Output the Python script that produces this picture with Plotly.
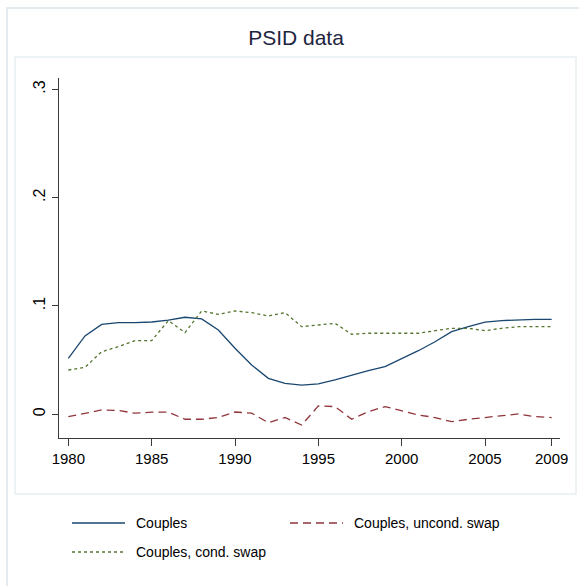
import plotly.graph_objects as go

# PSID series, 1980-2009
years = list(range(1980, 2010))

couples = [0.0517, 0.0723, 0.0830, 0.0846, 0.0846, 0.0852, 0.0870, 0.0896, 0.0880, 0.0778,
           0.0610, 0.0455, 0.0332, 0.0286, 0.0270, 0.0280, 0.0317, 0.0363, 0.0403, 0.0440,
           0.0510, 0.0587, 0.0670, 0.0763, 0.0809, 0.0850, 0.0865, 0.0874, 0.0877, 0.0877]

uncond_swap = [-0.0022, 0.0010, 0.0040, 0.0035, 0.0010, 0.0020, 0.0020, -0.0046, -0.0046, -0.0030,
               0.0021, 0.0010, -0.0078, -0.0030, -0.0099, 0.0077, 0.0071, -0.0046, 0.0024, 0.0071,
               0.0030, -0.0006, -0.0030, -0.0068, -0.0046, -0.0030, -0.0015, 0.0003, -0.0022, -0.0030]

cond_swap = [0.0409, 0.0434, 0.0578, 0.0624, 0.0680, 0.0680, 0.0865, 0.0754, 0.0954, 0.0923,
             0.0954, 0.0938, 0.0908, 0.0938, 0.0809, 0.0825, 0.0840, 0.0739, 0.0748, 0.0748,
             0.0748, 0.0748, 0.0772, 0.0794, 0.0794, 0.0772, 0.0794, 0.0809, 0.0809, 0.0809]

x_ticks = [1980, 1985, 1990, 1995, 2000, 2005, 2009]
y_ticks = [0, 0.1, 0.2, 0.3]
y_tick_text = ["0", ".1", ".2", ".3"]

series_names = ["Couples", "Couples, uncond. swap", "Couples, cond. swap"]
colors = ["#1a476f", "#90353b", "#55752f"]
dashes = ["solid", "8px,5px", "3px,3px"]

FONT = "Liberation Sans Narrow, Arial Narrow, Liberation Sans, Arial, sans-serif"

W, H = 579, 586
L, R, T, B = 59, 19, 78, 148
PW, PH = W - L - R, H - T - B


def px_x(p):
    return (p - L) / PW


def px_y(p):
    return (H - B - p) / PH


fig = go.Figure()
for name, vals, col, dash in zip(series_names, [couples, uncond_swap, cond_swap], colors, dashes):
    fig.add_trace(go.Scatter(x=years, y=vals, mode="lines", name=name,
                             line=dict(color=col, width=1.3, dash=dash),
                             showlegend=False))

shapes = [
    # outer graph region frame
    dict(type="rect", xref="paper", yref="paper",
         x0=px_x(7), x1=px_x(590), y0=px_y(600), y1=px_y(8),
         line=dict(color="#e4ecef", width=2), fillcolor="rgba(0,0,0,0)", layer="below"),
    # inner plot region frame
    dict(type="rect", xref="paper", yref="paper",
         x0=px_x(15), x1=px_x(576), y0=px_y(494), y1=px_y(57),
         line=dict(color="#e8eff1", width=1.5), fillcolor="rgba(0,0,0,0)", layer="below"),
]

# legend keys
legend_rows = [(72, 523), (290, 523), (72, 552)]
annotations = []
for (lx, ly), name, col, dash in zip(legend_rows, series_names, colors, dashes):
    shapes.append(dict(type="line", xref="paper", yref="paper",
                       x0=px_x(lx), x1=px_x(lx + 53), y0=px_y(ly), y1=px_y(ly),
                       line=dict(color=col, width=1.3, dash=dash)))
    annotations.append(dict(text=name, xref="paper", yref="paper",
                            x=px_x(lx + 62), y=px_y(ly), xanchor="left", yanchor="middle",
                            showarrow=False, font=dict(family=FONT, size=14, color="#000000")))

fig.update_layout(
    width=W, height=H,
    margin=dict(l=L, r=R, t=T, b=B),
    paper_bgcolor="white", plot_bgcolor="white",
    title=dict(text="PSID data", x=296 / W, xanchor="center", y=1 - 38 / H, yanchor="middle",
               font=dict(family=FONT, size=21, color="#1e2440")),
    shapes=shapes,
    annotations=annotations,
    xaxis=dict(range=[1979.44, 2009.5], tickvals=x_ticks, ticktext=[str(v) for v in x_ticks],
               showgrid=False, zeroline=False, showline=True, linecolor="#3a3a3a", linewidth=1.3,
               ticks="outside", ticklen=7, tickcolor="#3a3a3a", tickwidth=1.3,
               tickfont=dict(family=FONT, size=15, color="#000000")),
    yaxis=dict(range=[-0.0219, 0.3105], tickvals=y_ticks, ticktext=y_tick_text,
               showgrid=False, zeroline=False, showline=True, linecolor="#3a3a3a", linewidth=1.3,
               ticks="outside", ticklen=6, tickcolor="#3a3a3a", tickwidth=1.3, tickangle=-90,
               tickfont=dict(family=FONT, size=16, color="#000000")),
)

fig.write_html("out.html")
